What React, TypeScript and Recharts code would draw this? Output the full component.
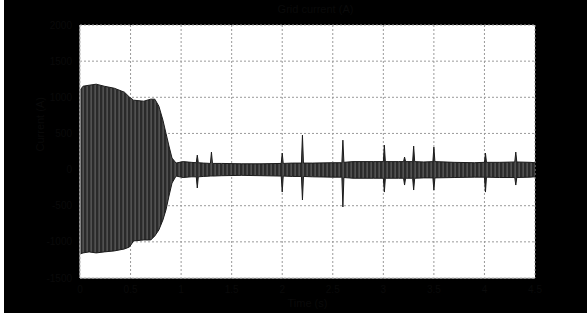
import { ComposedChart, Area, XAxis, YAxis, CartesianGrid, Label } from 'recharts'

// time (s) of each envelope point
const times = [
	0, 0.03, 0.09, 0.16, 0.24, 0.34, 0.44, 0.49, 0.53, 0.63, 0.7, 0.74, 0.78, 0.82, 0.85, 0.88, 0.91, 0.95,
	1.02, 1.1, 1.15, 1.16, 1.17, 1.22, 1.29, 1.3, 1.31, 1.4,
	1.6, 1.8, 1.99, 2.0, 2.01, 2.1, 2.19, 2.2, 2.21, 2.3,
	2.5, 2.59, 2.6, 2.61, 2.7, 2.9, 3.0, 3.01, 3.02, 3.15,
	3.2, 3.21, 3.22, 3.29, 3.3, 3.31, 3.4, 3.49, 3.5, 3.51,
	3.7, 3.9, 4.0, 4.01, 4.02, 4.15, 4.3, 4.31, 4.32, 4.45,
	4.5,
]

// upper envelope of the waveform
const upper = [
	1098, 1153, 1167, 1181, 1153, 1125, 1070, 1001, 960, 946, 974, 974, 877, 684, 504, 325, 159, 90,
	110, 100, 95, 200, 95, 90, 85, 242, 85, 85,
	80, 80, 85, 228, 85, 90, 90, 476, 90, 90,
	95, 95, 407, 100, 110, 110, 110, 338, 110, 110,
	110, 173, 110, 110, 325, 110, 105, 110, 311, 110,
	100, 95, 100, 228, 100, 100, 105, 242, 105, 100,
	95,
]

// lower envelope of the waveform
const lower = [
	-1167, -1153, -1139, -1153, -1139, -1125, -1098, -1070, -987, -974, -974, -918, -835, -697, -559, -366, -186, -90,
	-110, -100, -100, -255, -100, -95, -90, -90, -90, -85,
	-80, -85, -90, -311, -90, -95, -95, -421, -95, -100,
	-105, -105, -518, -110, -120, -120, -120, -311, -120, -120,
	-120, -214, -120, -120, -283, -120, -115, -115, -283, -115,
	-110, -105, -105, -311, -105, -110, -110, -214, -110, -105,
	-100,
]

const xTicks = [0, 0.5, 1, 1.5, 2, 2.5, 3, 3.5, 4, 4.5]
const yTicks = [-1500, -1000, -500, 0, 500, 1000, 1500, 2000]

const data = times.map((t, i) => ({ t, band: [lower[i], upper[i]] }))

const dim = '#0a0a0a'
const font = 'Liberation Sans, Arial, sans-serif'

export default function App() {
	return (
		<div style={{ position: 'absolute', left: 4, top: 0, width: 583, height: 313, background: '#000', fontFamily: font }}>
			<div
				style={{
					position: 'absolute',
					top: 3,
					width: '100%',
					textAlign: 'center',
					color: dim,
					fontSize: 11,
					paddingLeft: 20,
				}}
			>
				Grid current (A)
			</div>
			<ComposedChart
				width={583}
				height={313}
				data={data}
				margin={{ top: 25, right: 52, bottom: 0, left: 0 }}
				style={{ fontFamily: font }}
			>
				<defs>
					<pattern id="osc" width="4" height="6" patternUnits="userSpaceOnUse">
						<rect width="4" height="6" fill="#2a2a2a" />
						<rect x="2.6" width="1" height="6" fill="#6a6a6a" />
					</pattern>
				</defs>
				<CartesianGrid fill="#fff" stroke="#9a9a9a" strokeDasharray="2 2" />
				<XAxis
					dataKey="t"
					type="number"
					domain={[0, 4.5]}
					ticks={xTicks}
					tickLine={false}
					axisLine={{ stroke: '#ddd' }}
					tick={{ fill: dim, fontSize: 10 }}
					height={35}
				>
					<Label value="Time (s)" position="insideBottom" offset={6} fill={dim} fontSize={11} />
				</XAxis>
				<YAxis
					type="number"
					domain={[-1500, 2000]}
					ticks={yTicks}
					tickLine={false}
					axisLine={{ stroke: '#ddd' }}
					tick={{ fill: dim, fontSize: 10 }}
					width={76}
				>
					<Label value="Current (A)" angle={-90} position="insideLeft" offset={36} fill={dim} fontSize={11} />
				</YAxis>
				<Area
					type="linear"
					dataKey="band"
					stroke="#1c1c1c"
					strokeWidth={1}
					fill="url(#osc)"
					fillOpacity={1}
					dot={false}
					activeDot={false}
					isAnimationActive={false}
				/>
			</ComposedChart>
		</div>
	)
}
